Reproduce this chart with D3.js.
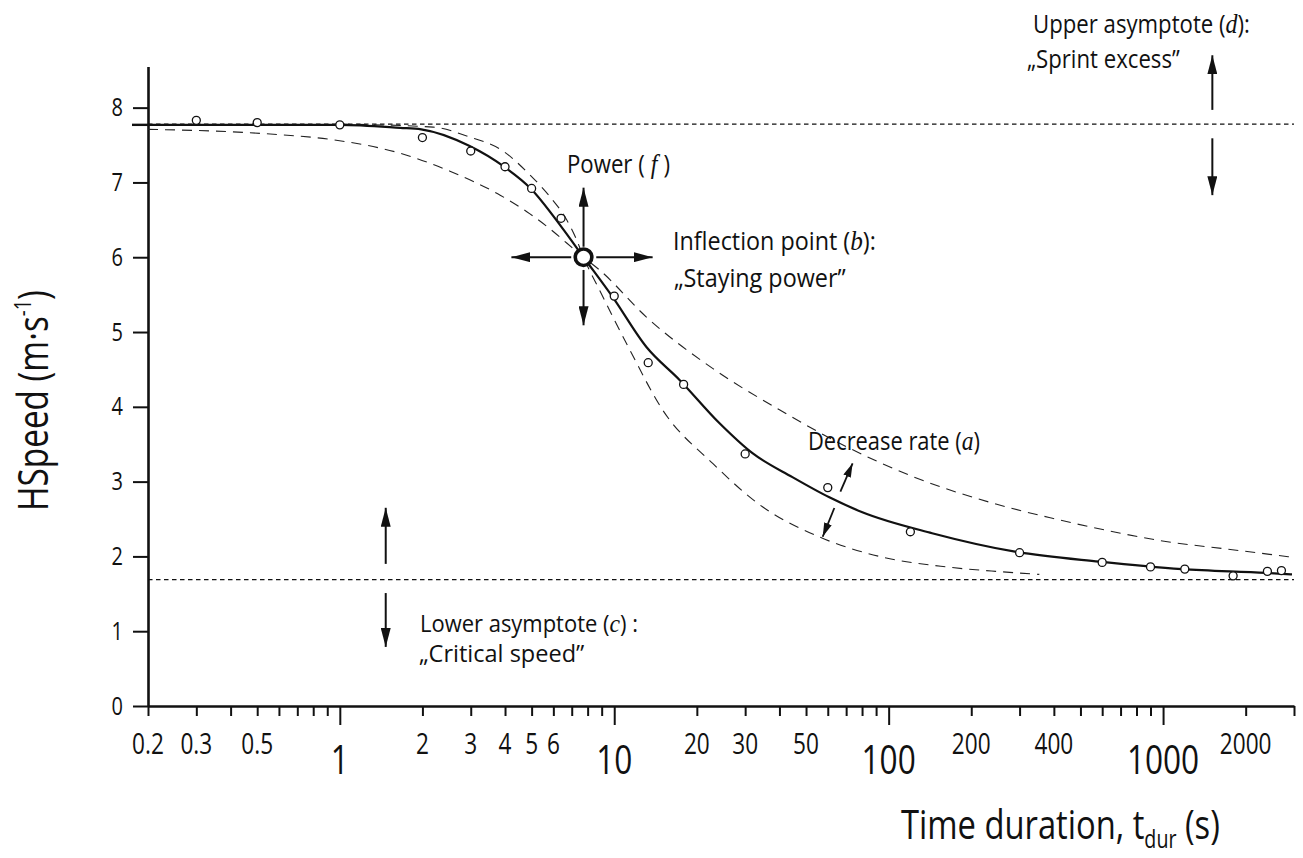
<!DOCTYPE html>
<html><head><meta charset="utf-8">
<script src="https://cdn.jsdelivr.net/npm/d3@7"></script>
<style>
html,body{margin:0;padding:0;background:#fff;overflow:hidden}
text{font-family:"Open Sans","Noto Sans",sans-serif;fill:#111}
</style>
</head><body>
<svg id="c" width="1303" height="858"></svg>
<script>
// ---------- data ----------
const obsT = [0.3, 0.5, 1, 2, 3, 4, 5, 6.4, 10, 13.3, 17.9, 30, 60, 120, 300, 600, 900, 1200, 1800, 2400, 2700];
const obsV = [7.83, 7.80, 7.77, 7.60, 7.42, 7.21, 6.92, 6.52, 5.48, 4.59, 4.30, 3.37, 2.92, 2.33, 2.05, 1.92, 1.86, 1.83, 1.74, 1.80, 1.81];

const fitT = [0.2, 1, 1.66, 1.98, 2.96, 3.97, 4.96, 6.44, 7.73, 9.86, 13.1, 17.3, 24.2, 31.9, 44.6, 60.8, 80.2, 144, 292, 585, 1172, 2371, 2950];
const fitV = [7.77, 7.77, 7.73, 7.71, 7.49, 7.21, 6.92, 6.40, 6.0, 5.47, 4.80, 4.36, 3.78, 3.38, 3.06, 2.79, 2.59, 2.31, 2.06, 1.93, 1.83, 1.78, 1.76];

const steepT = [1, 2.19, 2.90, 3.97, 4.93, 5.83, 6.71, 7.26, 7.73, 8.84, 11.4, 15.0, 22.9, 34.8, 55.9, 92.5, 162, 246, 354];
const steepV = [7.78, 7.74, 7.62, 7.41, 7.10, 6.81, 6.50, 6.25, 6.0, 5.56, 4.76, 3.96, 3.24, 2.66, 2.26, 2.00, 1.86, 1.80, 1.76];

const shallowT = [0.2, 0.542, 0.947, 1.66, 2.52, 3.84, 4.93, 5.83, 6.71, 7.73, 8.84, 13.1, 22.9, 40.0, 69.9, 122, 246, 395, 619, 1023, 1788, 2950];
const shallowV = [7.71, 7.65, 7.57, 7.39, 7.15, 6.83, 6.58, 6.38, 6.19, 6.0, 5.83, 5.20, 4.51, 3.96, 3.47, 3.07, 2.70, 2.51, 2.35, 2.20, 2.09, 1.99];

const upperAsym = 7.78;
const lowerAsym = 1.69;
const inflection = [7.73, 6.0];

const xTicks = [0.2,0.3,0.4,0.5,0.6,0.7,0.8,0.9,1,2,3,4,5,6,7,8,9,10,20,30,40,50,60,70,80,90,100,200,300,400,500,600,700,800,900,1000,2000,3000];
const xMajor = [1, 10, 100, 1000];
const xMinorLabels = [0.2, 0.3, 0.5, 2, 3, 4, 5, 6, 20, 30, 50, 200, 400, 2000];
const yTicks = [0, 1, 2, 3, 4, 5, 6, 7, 8];

// ---------- scales ----------
const svg = d3.select("#c");
const x = d3.scaleLog().domain([0.2, 3000]).range([148, 1294]);
const y = d3.scaleLinear().domain([0, 8.55]).range([706, 66.5]);

// ---------- defs ----------
const defs = svg.append("defs");
function marker(id, len, wid) {
  defs.append("marker").attr("id", id)
    .attr("viewBox", `0 0 ${len} ${wid}`).attr("refX", len).attr("refY", wid/2)
    .attr("markerWidth", len).attr("markerHeight", wid)
    .attr("markerUnits", "userSpaceOnUse").attr("orient", "auto")
    .append("path").attr("d", `M0,0 L${len},${wid/2} L0,${wid} Z`).attr("fill", "#111");
}
marker("ah", 19, 10);
marker("ahs", 14, 8);

// ---------- text helper (condensed look via horizontal scale) ----------
function label(parts, px, py, size, opt = {}) {
  const g = svg.append("g");
  const t = g.append("text").attr("font-size", size).attr("text-anchor", opt.anchor || "start");
  parts.forEach(p => {
    const ts = t.append("tspan").text(p.t);
    if (p.it) ts.attr("font-family", "'Liberation Serif','DejaVu Serif',serif").attr("font-style", "italic").attr("font-size", size * 1.08);
    if (p.fs) ts.attr("font-size", size * p.fs);
    if (p.dy) ts.attr("dy", p.dy);
  });
  const w = t.node().getBBox().width;
  const k = opt.width ? opt.width / w : (opt.k || 0.8);
  g.attr("transform", `translate(${px},${py})${opt.rotate ? ` rotate(${opt.rotate})` : ""} scale(${k},1)`);
  return g;
}

// ---------- axes ----------
const xAxis = svg.append("g").attr("transform", `translate(0,${y(0)})`)
  .call(d3.axisBottom(x).tickValues(xTicks).tickSize(10).tickSizeOuter(0).tickFormat(""));
xAxis.select(".domain").attr("stroke", "#111").attr("stroke-width", 2.6);
xAxis.selectAll(".tick line").attr("stroke", "#111").attr("stroke-width", 2)
  .filter(d => xMajor.includes(d)).attr("y2", 19);

const yAxis = svg.append("g").attr("transform", `translate(${x(0.2)},0)`)
  .call(d3.axisLeft(y).tickValues(yTicks).tickSize(15).tickSizeOuter(0).tickFormat(""));
yAxis.select(".domain").attr("stroke", "#111").attr("stroke-width", 2.6);
yAxis.selectAll(".tick line").attr("stroke", "#111").attr("stroke-width", 2);
// short mark where the fitted curve meets the axis
svg.append("line").attr("x1", x(0.2) - 16).attr("x2", x(0.2))
  .attr("y1", y(fitV[0])).attr("y2", y(fitV[0])).attr("stroke", "#111").attr("stroke-width", 2.4);

yTicks.forEach(v => label([{t: String(v)}], 123, y(v) + 8.5, 25, {anchor: "end", k: 0.8}));
xMinorLabels.forEach(v => label([{t: String(v)}], x(v), 754, 29, {anchor: "middle", k: 0.78}));
xMajor.forEach(v => label([{t: String(v)}], x(v), 774, 41, {anchor: "middle", k: 0.77}));

// ---------- asymptotes ----------
[upperAsym, lowerAsym].forEach(v => {
  svg.append("line").attr("x1", x(0.2)).attr("x2", x(3000))
    .attr("y1", y(v)).attr("y2", y(v))
    .attr("stroke", "#111").attr("stroke-width", 1.4).attr("stroke-dasharray", "4.5,3.5");
});

// ---------- curves ----------
const line = d3.line().x(d => x(d[0])).y(d => y(d[1])).curve(d3.curveMonotoneX);
const zip = (a, b) => a.map((t, i) => [t, b[i]]);
svg.append("path").datum(zip(steepT, steepV)).attr("d", line)
  .attr("fill", "none").attr("stroke", "#222").attr("stroke-width", 1.1).attr("stroke-dasharray", "10,7");
svg.append("path").datum(zip(shallowT, shallowV)).attr("d", line)
  .attr("fill", "none").attr("stroke", "#222").attr("stroke-width", 1.1).attr("stroke-dasharray", "10,7");
svg.append("path").datum(zip(fitT, fitV)).attr("d", line)
  .attr("fill", "none").attr("stroke", "#111").attr("stroke-width", 2.2);

// ---------- observed points ----------
svg.append("g").selectAll("circle").data(zip(obsT, obsV)).join("circle")
  .attr("cx", d => x(d[0])).attr("cy", d => y(d[1])).attr("r", 4)
  .attr("fill", "#fff").attr("stroke", "#111").attr("stroke-width", 1.3);

// ---------- arrows ----------
function arrow(x1, y1, x2, y2, m = "ah", w = 2) {
  svg.append("line").attr("x1", x(x1)).attr("y1", y(y1)).attr("x2", x(x2)).attr("y2", y(y2))
    .attr("stroke", "#111").attr("stroke-width", w).attr("marker-end", `url(#${m})`);
}
// inflection point cross
arrow(inflection[0], 6.14, inflection[0], 6.93);
arrow(inflection[0], 5.83, inflection[0], 5.09);
arrow(6.97, inflection[1], 4.22, inflection[1]);
arrow(8.60, inflection[1], 13.8, inflection[1]);
// upper asymptote
arrow(1512, 7.97, 1512, 8.70);
arrow(1512, 7.59, 1512, 6.83);
// lower asymptote
arrow(1.47, 1.90, 1.47, 2.65);
arrow(1.47, 1.51, 1.47, 0.79);
// decrease rate
arrow(66.7, 2.865, 73.9, 3.245, "ahs", 1.8);
arrow(63.4, 2.647, 57.5, 2.263, "ahs", 1.8);

svg.append("circle").attr("cx", x(inflection[0])).attr("cy", y(inflection[1])).attr("r", 8.3)
  .attr("fill", "#fff").attr("stroke", "#111").attr("stroke-width", 3.6);

// ---------- annotations ----------
label([{t: "Upper asymptote ("}, {t: "d", it: true}, {t: "):"}], 1033, 33, 25, {width: 217});
label([{t: "\u201ESprint excess\u201D"}], 1027, 68, 25, {width: 153});
label([{t: "Power ("}, {t: " f ", it: true}, {t: ")"}], 567, 173, 25, {width: 103});
label([{t: "Inflection point ("}, {t: "b", it: true}, {t: "):"}], 673, 250, 25, {width: 203});
label([{t: "\u201EStaying power\u201D"}], 674, 287, 25, {width: 172});
label([{t: "Decrease rate ("}, {t: "a", it: true}, {t: ")"}], 808, 450, 25, {width: 172});
label([{t: "Lower asymptote ("}, {t: "c", it: true}, {t: ") :"}], 420, 632, 24, {width: 218});
label([{t: "\u201ECritical speed\u201D"}], 419, 662, 24, {width: 166});

// ---------- axis titles ----------
label([{t: "Time duration, t"}, {t: "dur", fs: 0.6, dy: 9}, {t: " (s)", dy: -9}], 901, 839, 41, {width: 319});
label([{t: "HSpeed (m\u00B7s"}, {t: "-1", fs: 0.55, dy: -17}, {t: ")", dy: 17}], 48, 400.5, 42, {width: 221, anchor: "middle", rotate: -90});
</script>
</body></html>
